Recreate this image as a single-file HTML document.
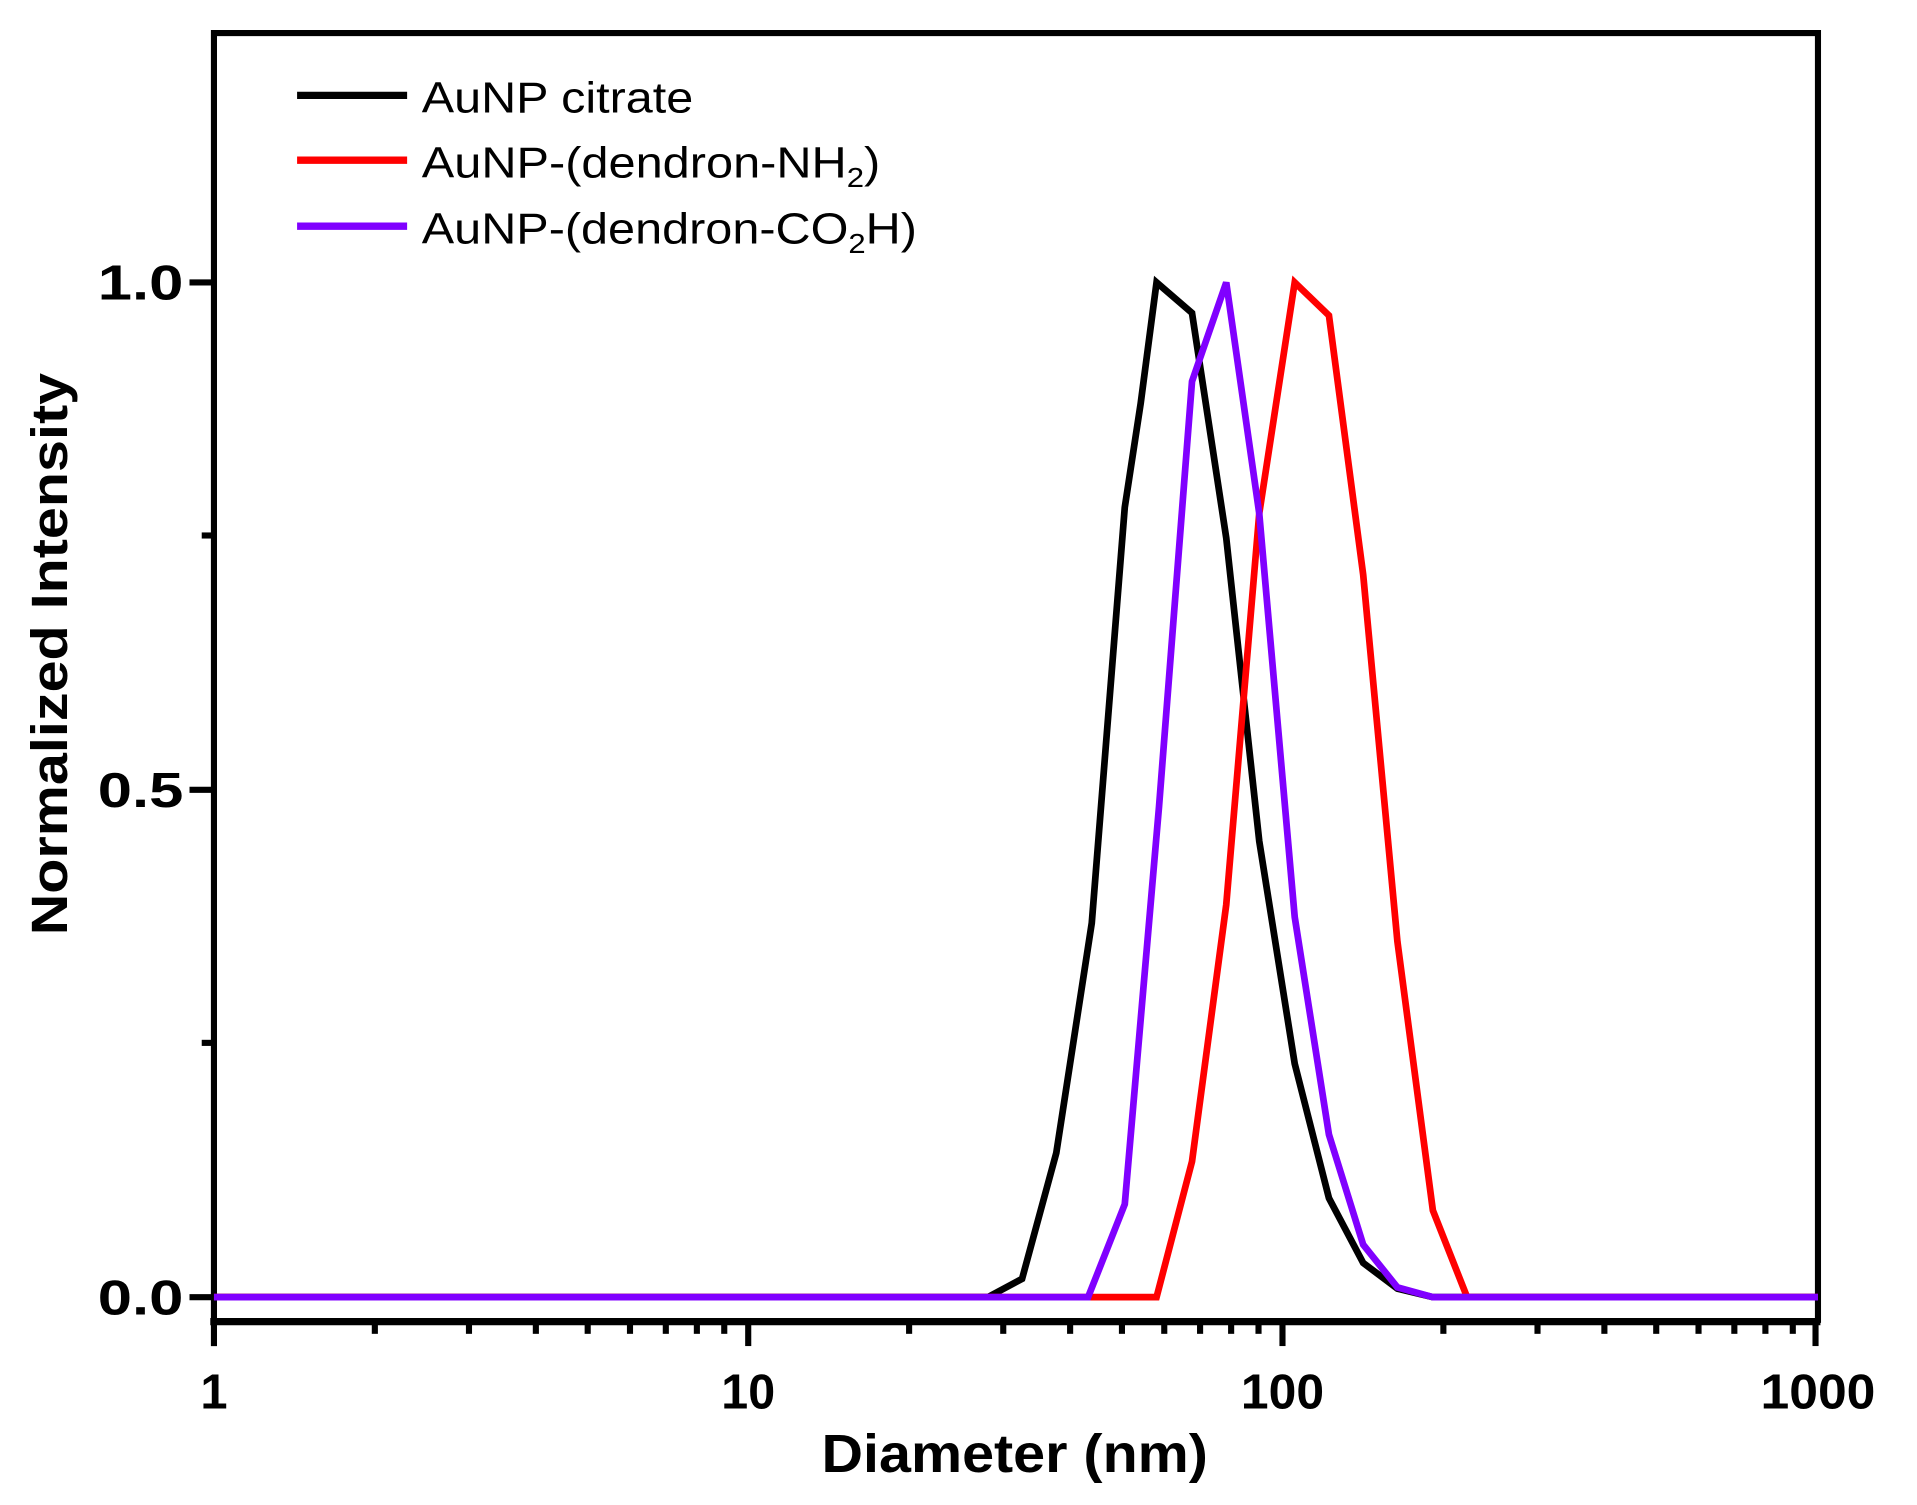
<!DOCTYPE html>
<html><head><meta charset="utf-8"><style>html,body{margin:0;padding:0;background:#fff}svg{display:block}</style></head>
<body>
<svg width="1917" height="1505" viewBox="0 0 1568 1231" preserveAspectRatio="none" xmlns="http://www.w3.org/2000/svg" font-family="Liberation Sans, Arial, sans-serif">
<rect width="1568" height="1231" fill="#fff"/>
<path d="M175,1101 V27 H1487 V1082" fill="none" stroke="#000" stroke-width="5"/>
<line x1="172" y1="1081" x2="1489" y2="1081" stroke="#000" stroke-width="6"/>
<g stroke="#000" stroke-width="5">
<line x1="155" y1="1061" x2="175" y2="1061"/>
<line x1="155" y1="646" x2="175" y2="646"/>
<line x1="155" y1="231" x2="175" y2="231"/>
<line x1="165" y1="853" x2="175" y2="853"/>
<line x1="165" y1="438" x2="175" y2="438"/>
</g>
<g stroke="#000" stroke-width="5">
<line x1="612" y1="1080" x2="612" y2="1101"/>
<line x1="1049" y1="1080" x2="1049" y2="1101"/>
<line x1="1485" y1="1080" x2="1485" y2="1101"/>
</g>
<g stroke="#000" stroke-width="5">
<line x1="306.6" y1="1080" x2="306.6" y2="1091"/><line x1="383.6" y1="1080" x2="383.6" y2="1091"/><line x1="438.3" y1="1080" x2="438.3" y2="1091"/><line x1="480.7" y1="1080" x2="480.7" y2="1091"/><line x1="515.3" y1="1080" x2="515.3" y2="1091"/><line x1="544.6" y1="1080" x2="544.6" y2="1091"/><line x1="570" y1="1080" x2="570" y2="1091"/><line x1="592.4" y1="1080" x2="592.4" y2="1091"/>
<line x1="743.6" y1="1080" x2="743.6" y2="1091"/><line x1="820.6" y1="1080" x2="820.6" y2="1091"/><line x1="875.3" y1="1080" x2="875.3" y2="1091"/><line x1="917.7" y1="1080" x2="917.7" y2="1091"/><line x1="952.3" y1="1080" x2="952.3" y2="1091"/><line x1="981.6" y1="1080" x2="981.6" y2="1091"/><line x1="1007" y1="1080" x2="1007" y2="1091"/><line x1="1029.4" y1="1080" x2="1029.4" y2="1091"/>
<line x1="1180.6" y1="1080" x2="1180.6" y2="1091"/><line x1="1257.6" y1="1080" x2="1257.6" y2="1091"/><line x1="1312.3" y1="1080" x2="1312.3" y2="1091"/><line x1="1354.7" y1="1080" x2="1354.7" y2="1091"/><line x1="1389.3" y1="1080" x2="1389.3" y2="1091"/><line x1="1418.6" y1="1080" x2="1418.6" y2="1091"/><line x1="1444" y1="1080" x2="1444" y2="1091"/><line x1="1466.4" y1="1080" x2="1466.4" y2="1091"/>
</g>
<g font-weight="bold" font-size="40" fill="#000">
<text x="150" y="1075" text-anchor="end" textLength="70" lengthAdjust="spacingAndGlyphs">0.0</text>
<text x="150" y="660" text-anchor="end" textLength="70" lengthAdjust="spacingAndGlyphs">0.5</text>
<text x="150" y="245" text-anchor="end" textLength="70" lengthAdjust="spacingAndGlyphs">1.0</text>
<text x="175" y="1152" text-anchor="middle">1</text>
<text x="612" y="1152" text-anchor="middle" textLength="44" lengthAdjust="spacingAndGlyphs">10</text>
<text x="1049" y="1152" text-anchor="middle" textLength="68" lengthAdjust="spacingAndGlyphs">100</text>
<text x="1487" y="1152" text-anchor="middle" textLength="94" lengthAdjust="spacingAndGlyphs">1000</text>
</g>
<text x="830" y="1204" text-anchor="middle" font-weight="bold" font-size="44" textLength="316" lengthAdjust="spacingAndGlyphs">Diameter (nm)</text>
<text transform="translate(55,535) rotate(-90)" text-anchor="middle" font-weight="bold" font-size="42" textLength="460" lengthAdjust="spacingAndGlyphs">Normalized Intensity</text>
<g stroke-width="6">
<line x1="243" y1="78" x2="333" y2="78" stroke="#000"/>
<line x1="243" y1="131" x2="333" y2="131" stroke="#ff0000"/>
<line x1="243" y1="185" x2="333" y2="185" stroke="#8000ff"/>
</g>
<g font-size="36" fill="#000">
<text x="345" y="92" textLength="222" lengthAdjust="spacingAndGlyphs">AuNP citrate</text>
<text x="345" y="145" textLength="375" lengthAdjust="spacingAndGlyphs">AuNP-(dendron-NH<tspan font-size="23" dy="8">2</tspan><tspan dy="-8">)</tspan></text>
<text x="345" y="199" textLength="405" lengthAdjust="spacingAndGlyphs">AuNP-(dendron-CO<tspan font-size="23" dy="8">2</tspan><tspan dy="-8">H)</tspan></text>
</g>
<g fill="none" stroke-width="5.5" stroke-linejoin="miter">
<polyline stroke="#000" points="175,1061 808,1061 836,1046 864,943 893,755 920,415 933,330 946,231 975,256 1003,440 1030,688 1059,870 1087,980 1115,1033 1143,1054 1172,1061 1487,1061"/>
<polyline stroke="#ff0000" points="175,1061 946,1061 975,950 1003,740 1030,420 1059,231 1087,258 1115,470 1143,770 1172,990 1200,1061 1487,1061"/>
<polyline stroke="#8000ff" points="175,1061 890,1061 920,985 948,660 975,312 1003,231 1030,420 1059,750 1087,928 1115,1018 1143,1053 1172,1061 1487,1061"/>
</g>
</svg>
</body></html>
